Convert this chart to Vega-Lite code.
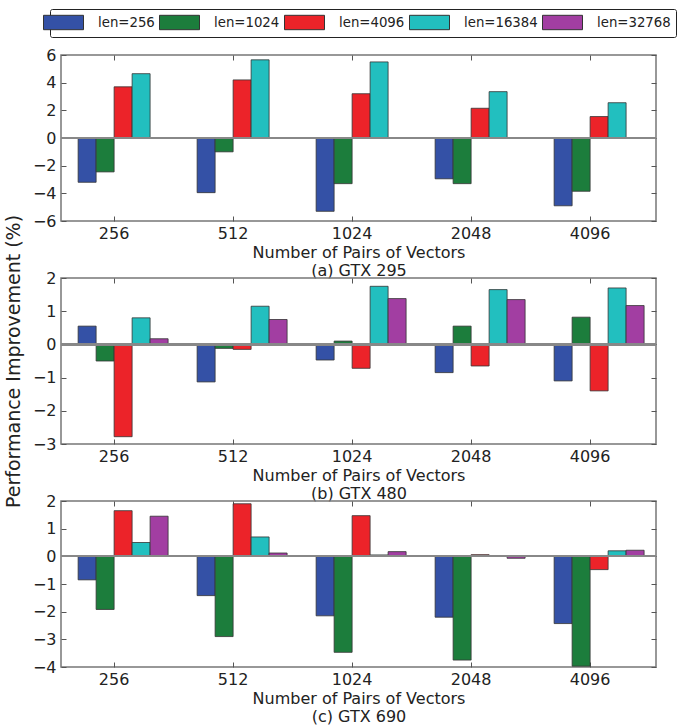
{
  "$schema": "https://vega.github.io/schema/vega-lite/v6.json",
  "padding": {"left": 3, "top": 8, "right": 5, "bottom": 2},
  "bounds": "flush",
  "spacing": 57,
  "datasets": {
    "a": [
      {"n": "256", "len": "len=256", "v": -3.2},
      {"n": "256", "len": "len=1024", "v": -2.45},
      {"n": "256", "len": "len=4096", "v": 3.7},
      {"n": "256", "len": "len=16384", "v": 4.65},
      {"n": "512", "len": "len=256", "v": -3.95},
      {"n": "512", "len": "len=1024", "v": -1.0},
      {"n": "512", "len": "len=4096", "v": 4.2},
      {"n": "512", "len": "len=16384", "v": 5.65},
      {"n": "1024", "len": "len=256", "v": -5.3},
      {"n": "1024", "len": "len=1024", "v": -3.3},
      {"n": "1024", "len": "len=4096", "v": 3.2},
      {"n": "1024", "len": "len=16384", "v": 5.5},
      {"n": "2048", "len": "len=256", "v": -2.95},
      {"n": "2048", "len": "len=1024", "v": -3.3},
      {"n": "2048", "len": "len=4096", "v": 2.15},
      {"n": "2048", "len": "len=16384", "v": 3.35},
      {"n": "4096", "len": "len=256", "v": -4.9},
      {"n": "4096", "len": "len=1024", "v": -3.85},
      {"n": "4096", "len": "len=4096", "v": 1.55},
      {"n": "4096", "len": "len=16384", "v": 2.55}
    ],
    "b": [
      {"n": "256", "len": "len=256", "v": 0.55},
      {"n": "256", "len": "len=1024", "v": -0.5},
      {"n": "256", "len": "len=4096", "v": -2.78},
      {"n": "256", "len": "len=16384", "v": 0.8},
      {"n": "256", "len": "len=32768", "v": 0.17},
      {"n": "512", "len": "len=256", "v": -1.13},
      {"n": "512", "len": "len=1024", "v": -0.12},
      {"n": "512", "len": "len=4096", "v": -0.15},
      {"n": "512", "len": "len=16384", "v": 1.15},
      {"n": "512", "len": "len=32768", "v": 0.75},
      {"n": "1024", "len": "len=256", "v": -0.47},
      {"n": "1024", "len": "len=1024", "v": 0.1},
      {"n": "1024", "len": "len=4096", "v": -0.72},
      {"n": "1024", "len": "len=16384", "v": 1.75},
      {"n": "1024", "len": "len=32768", "v": 1.38},
      {"n": "2048", "len": "len=256", "v": -0.85},
      {"n": "2048", "len": "len=1024", "v": 0.55},
      {"n": "2048", "len": "len=4096", "v": -0.65},
      {"n": "2048", "len": "len=16384", "v": 1.65},
      {"n": "2048", "len": "len=32768", "v": 1.35},
      {"n": "4096", "len": "len=256", "v": -1.1},
      {"n": "4096", "len": "len=1024", "v": 0.82},
      {"n": "4096", "len": "len=4096", "v": -1.4},
      {"n": "4096", "len": "len=16384", "v": 1.7},
      {"n": "4096", "len": "len=32768", "v": 1.17}
    ],
    "c": [
      {"n": "256", "len": "len=256", "v": -0.85},
      {"n": "256", "len": "len=1024", "v": -1.92},
      {"n": "256", "len": "len=4096", "v": 1.65},
      {"n": "256", "len": "len=16384", "v": 0.5},
      {"n": "256", "len": "len=32768", "v": 1.45},
      {"n": "512", "len": "len=256", "v": -1.42},
      {"n": "512", "len": "len=1024", "v": -2.9},
      {"n": "512", "len": "len=4096", "v": 1.9},
      {"n": "512", "len": "len=16384", "v": 0.7},
      {"n": "512", "len": "len=32768", "v": 0.12},
      {"n": "1024", "len": "len=256", "v": -2.15},
      {"n": "1024", "len": "len=1024", "v": -3.47},
      {"n": "1024", "len": "len=4096", "v": 1.47},
      {"n": "1024", "len": "len=16384", "v": 0.05},
      {"n": "1024", "len": "len=32768", "v": 0.17},
      {"n": "2048", "len": "len=256", "v": -2.2},
      {"n": "2048", "len": "len=1024", "v": -3.75},
      {"n": "2048", "len": "len=4096", "v": 0.06},
      {"n": "2048", "len": "len=16384", "v": 0.03},
      {"n": "2048", "len": "len=32768", "v": -0.07},
      {"n": "4096", "len": "len=256", "v": -2.43},
      {"n": "4096", "len": "len=1024", "v": -3.97},
      {"n": "4096", "len": "len=4096", "v": -0.48},
      {"n": "4096", "len": "len=16384", "v": 0.2},
      {"n": "4096", "len": "len=32768", "v": 0.22}
    ]
  },
  "config": {
    "font": "DejaVu Sans",
    "view": {"stroke": "#777", "strokeWidth": 1.5},
    "axis": {
      "labelFont": "DejaVu Sans", "labelFontSize": 16, "labelColor": "#222",
      "titleFont": "DejaVu Sans", "titleFontSize": 16, "titleFontWeight": "normal", "titleColor": "#222",
      "domain": false, "grid": false, "tickColor": "#555", "tickSize": -5, "tickWidth": 1
    },
    "legend": {
      "orient": "none", "legendX": -11, "legendY": -46, "direction": "horizontal", "title": null,
      "gridAlign": "none",
      "strokeColor": "#222", "strokeWidth": 1, "padding": 5, "cornerRadius": 2,
      "symbolType": "M-2.5,-0.9H2.5V0.9H-2.5Z", "symbolSize": 256,
      "symbolStrokeColor": "#333", "symbolStrokeWidth": 1,
      "labelFont": "DejaVu Sans", "labelFontSize": 13.3, "labelColor": "#222",
      "labelOffset": 26, "columnPadding": 2
    }
  },
  "vconcat": [
    {
      "width": 595, "height": 166,
      "data": {"name": "a"},
      "layer": [
        {
          "mark": {"type": "bar", "stroke": "#333", "strokeWidth": 0.8},
          "encoding": {
            "x": {"field": "n", "type": "ordinal", "sort": ["256", "512", "1024", "2048", "4096"],
                  "scale": {"paddingInner": 0.244, "paddingOuter": 0.122, "align": 0.59},
                  "axis": {"labelAngle": 0, "bandPosition": 0.4, "labelOffset": -9, "labelPadding": 9,
                           "title": ["Number of Pairs of Vectors", "(a) GTX 295"], "titleLineHeight": 18, "titlePadding": 3}},
            "xOffset": {"field": "len", "type": "nominal",
                        "scale": {"domain": ["len=256", "len=1024", "len=4096", "len=16384", "len=32768"], "paddingInner": 0, "paddingOuter": 0}},
            "y": {"field": "v", "type": "quantitative", "scale": {"domain": [-6, 6], "nice": false},
                  "axis": {"values": [-6, -4, -2, 0, 2, 4, 6], "title": null, "labelPadding": 10}},
            "color": {"field": "len", "type": "nominal",
                      "scale": {"domain": ["len=256", "len=1024", "len=4096", "len=16384", "len=32768"],
                                "range": ["#3451a6", "#1c7d3c", "#ec2329", "#22bfbf", "#a23ea2"]}}
          }
        },
        {"mark": {"type": "rule", "color": "#888", "strokeWidth": 1.5}, "encoding": {"y": {"datum": 0, "axis": null}}},
        {
          "mark": {"type": "bar", "opacity": 0},
          "encoding": {
            "x": {"field": "n", "type": "ordinal", "sort": ["256", "512", "1024", "2048", "4096"],
                  "axis": {"orient": "top", "labels": false, "title": null, "bandPosition": 0.4}},
            "xOffset": {"field": "len", "type": "nominal"},
            "y": {"field": "v", "type": "quantitative", "axis": {"orient": "right", "labels": false, "title": null, "values": [-6, -4, -2, 0, 2, 4, 6]}}
          }
        }
      ],
      "resolve": {"axis": {"x": "independent", "y": "independent"}}
    },
    {
      "width": 595, "height": 166,
      "data": {"name": "b"},
      "layer": [
        {
          "mark": {"type": "bar", "stroke": "#333", "strokeWidth": 0.8},
          "encoding": {
            "x": {"field": "n", "type": "ordinal", "sort": ["256", "512", "1024", "2048", "4096"],
                  "scale": {"paddingInner": 0.244, "paddingOuter": 0.122, "align": 0.59},
                  "axis": {"labelAngle": 0, "bandPosition": 0.4, "labelOffset": -9, "labelPadding": 9,
                           "title": ["Number of Pairs of Vectors", "(b) GTX 480"], "titleLineHeight": 18, "titlePadding": 3}},
            "xOffset": {"field": "len", "type": "nominal",
                        "scale": {"domain": ["len=256", "len=1024", "len=4096", "len=16384", "len=32768"], "paddingInner": 0, "paddingOuter": 0}},
            "y": {"field": "v", "type": "quantitative", "scale": {"domain": [-3, 2], "nice": false},
                  "axis": {"values": [-3, -2, -1, 0, 1, 2], "title": "Performance Improvement (%)", "titleFontSize": 19, "titlePadding": 9, "labelPadding": 10}},
            "color": {"field": "len", "type": "nominal",
                      "scale": {"domain": ["len=256", "len=1024", "len=4096", "len=16384", "len=32768"],
                                "range": ["#3451a6", "#1c7d3c", "#ec2329", "#22bfbf", "#a23ea2"]}}
          }
        },
        {"mark": {"type": "rule", "color": "#888", "strokeWidth": 1.5}, "encoding": {"y": {"datum": 0, "axis": null}}},
        {
          "mark": {"type": "bar", "opacity": 0},
          "encoding": {
            "x": {"field": "n", "type": "ordinal", "sort": ["256", "512", "1024", "2048", "4096"],
                  "axis": {"orient": "top", "labels": false, "title": null, "bandPosition": 0.4}},
            "xOffset": {"field": "len", "type": "nominal"},
            "y": {"field": "v", "type": "quantitative", "axis": {"orient": "right", "labels": false, "title": null, "values": [-3, -2, -1, 0, 1, 2]}}
          }
        }
      ],
      "resolve": {"axis": {"x": "independent", "y": "independent"}}
    },
    {
      "width": 595, "height": 166,
      "data": {"name": "c"},
      "layer": [
        {
          "mark": {"type": "bar", "stroke": "#333", "strokeWidth": 0.8},
          "encoding": {
            "x": {"field": "n", "type": "ordinal", "sort": ["256", "512", "1024", "2048", "4096"],
                  "scale": {"paddingInner": 0.244, "paddingOuter": 0.122, "align": 0.59},
                  "axis": {"labelAngle": 0, "bandPosition": 0.4, "labelOffset": -9, "labelPadding": 9,
                           "title": ["Number of Pairs of Vectors", "(c) GTX 690"], "titleLineHeight": 18, "titlePadding": 3}},
            "xOffset": {"field": "len", "type": "nominal",
                        "scale": {"domain": ["len=256", "len=1024", "len=4096", "len=16384", "len=32768"], "paddingInner": 0, "paddingOuter": 0}},
            "y": {"field": "v", "type": "quantitative", "scale": {"domain": [-4, 2], "nice": false},
                  "axis": {"values": [-4, -3, -2, -1, 0, 1, 2], "title": null, "labelPadding": 10}},
            "color": {"field": "len", "type": "nominal",
                      "scale": {"domain": ["len=256", "len=1024", "len=4096", "len=16384", "len=32768"],
                                "range": ["#3451a6", "#1c7d3c", "#ec2329", "#22bfbf", "#a23ea2"]}}
          }
        },
        {"mark": {"type": "rule", "color": "#888", "strokeWidth": 1.5}, "encoding": {"y": {"datum": 0, "axis": null}}},
        {
          "mark": {"type": "bar", "opacity": 0},
          "encoding": {
            "x": {"field": "n", "type": "ordinal", "sort": ["256", "512", "1024", "2048", "4096"],
                  "axis": {"orient": "top", "labels": false, "title": null, "bandPosition": 0.4}},
            "xOffset": {"field": "len", "type": "nominal"},
            "y": {"field": "v", "type": "quantitative", "axis": {"orient": "right", "labels": false, "title": null, "values": [-4, -3, -2, -1, 0, 1, 2]}}
          }
        }
      ],
      "resolve": {"axis": {"x": "independent", "y": "independent"}}
    }
  ]
}
